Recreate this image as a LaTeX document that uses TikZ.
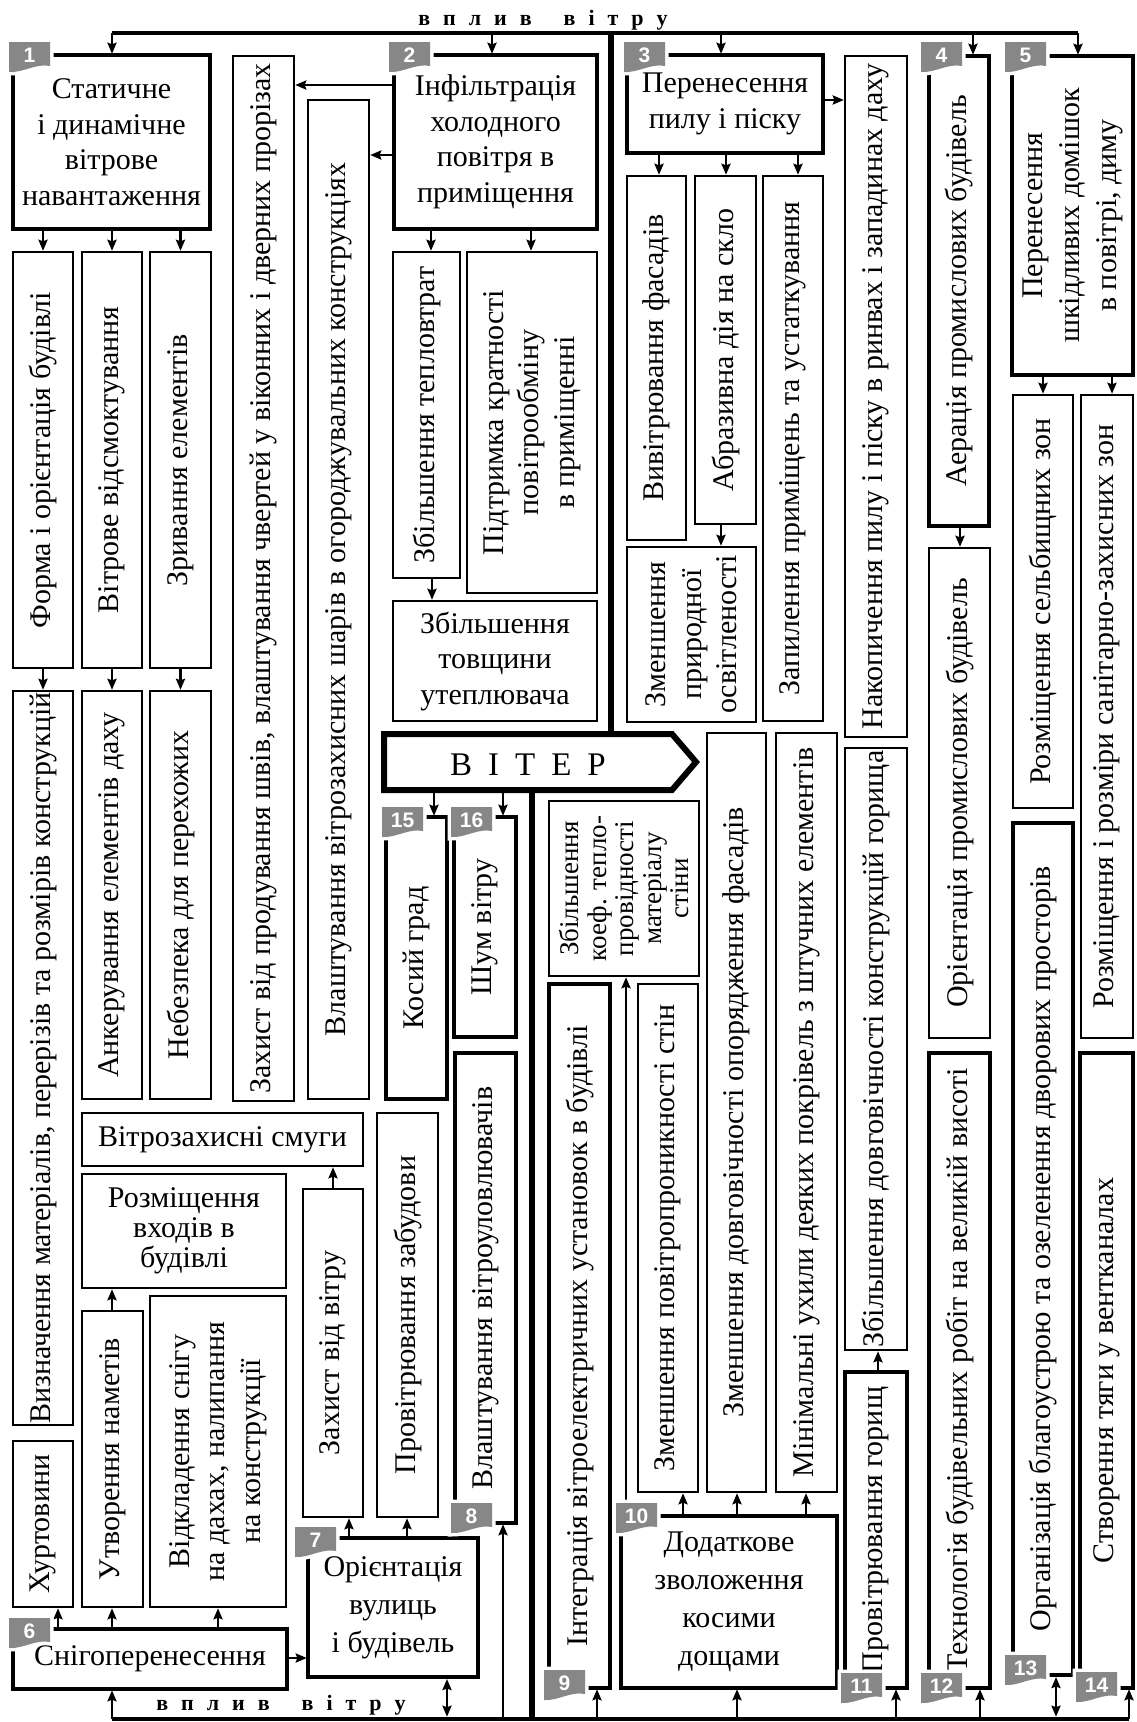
\documentclass[tikz,border=0pt]{standalone}
\usepackage{fontspec}
\setmainfont{Liberation Serif}
\newfontfamily\badgefont{Liberation Sans}
\usetikzlibrary{arrows.meta}
\definecolor{badgegray}{RGB}{135,135,135}
\tikzset{
  thinbox/.style={draw, line width=2.2pt, inner sep=0pt, outer sep=0pt},
  thickbox/.style={draw, line width=4.4pt, inner sep=0pt, outer sep=0pt},
  lbl/.style={font=\fontsize{30}{35.5}\selectfont, align=center, inner sep=0pt},
  vlbl/.style={lbl, rotate=90},
  arr/.style={line width=2.6pt, -{Stealth[length=11pt,width=9pt,inset=1.5pt]}, shorten >=1.2pt},
  darr/.style={line width=2.6pt, {Stealth[length=11pt,width=9pt,inset=1.5pt]}-{Stealth[length=11pt,width=9pt,inset=1.5pt]}, shorten >=2pt, shorten <=2.3pt},
  mainline/.style={line width=4.6pt},
  trunk/.style={line width=5.2pt},
  spaced/.style={font=\fontsize{22}{22}\selectfont\bfseries, inner sep=0pt, anchor=base},
}
\newcommand\Bx[8]{\node[#2,anchor=north west,minimum width={#5pt-#3pt},minimum height={#6pt-#4pt}] (#1) at (#3,#4) {};\node[#7] (#1t) at (#1.center) {#8};}
\newcommand\Badge[3]{\path[fill=badgegray, preaction={draw=white, line width=7pt}] (#2,#3) -- (#2+41,#3) -- (#2+41,#3+24) .. controls (#2+27,#3+21) and (#2+14,#3+31) .. (#2,#3+30) -- cycle;
\node[font=\badgefont\bfseries\fontsize{21}{21}\selectfont, text=white, inner sep=0pt] (badge#1) at (#2+20.5,#3+13.5) {#1};}
\newcommand\lsp{\hspace{13pt}}
\begin{document}
\begin{tikzpicture}[x=1pt,y=-1pt]
\useasboundingbox (0,0) rectangle (1137,1722);
\coordinate (topL) at (112,33);
\coordinate (topR) at (1078,33);
\coordinate (botL) at (112,1719);
\coordinate (botR) at (1129,1719);
\node[spaced] (vtop) at (543,25) {в\lsp п\lsp л\lsp и\lsp в\hspace{32pt}в\lsp і\lsp т\lsp р\lsp у};
\node[spaced] (vbot) at (281,1710) {в\lsp п\lsp л\lsp и\lsp в\hspace{32pt}в\lsp і\lsp т\lsp р\lsp у};

% thick boxes
\Bx{b1}{thickbox}{13}{55}{210}{229}{lbl}{Статичне\\і динамічне\\вітрове\\навантаження}
\Bx{b2}{thickbox}{394}{55}{597}{229}{lbl}{Інфільтрація\\холодного\\повітря в\\приміщення}
\Bx{b3}{thickbox}{627}{55}{823}{153}{lbl}{Перенесення\\пилу і піску}
\Bx{b4}{thickbox}{929}{56}{989}{526}{vlbl}{Аерація промислових будівель}
\Bx{b5}{thickbox}{1012}{56}{1133}{375}{vlbl, font=\fontsize{30}{37}\selectfont}{Перенесення\\шкідливих домішок\\в повітрі, диму}
\Bx{b6}{thickbox}{13}{1629}{287}{1689}{lbl}{Снігоперенесення}
\Bx{b7}{thickbox}{308}{1538}{478}{1677}{lbl, font=\fontsize{30}{38}\selectfont}{Орієнтація\\вулиць\\і будівель}
\Bx{b8}{thickbox}{455}{1053}{516}{1523}{vlbl}{Влаштування вітроуловлювачів}
\Bx{b9}{thickbox}{549}{984}{610}{1688}{vlbl}{Інтеграція вітроелектричних установок в будівлі}
\Bx{b10}{thickbox}{621}{1516}{837}{1688}{lbl, font=\fontsize{30}{38}\selectfont}{Додаткове\\зволоження\\косими\\дощами}
\Bx{b11}{thickbox}{845}{1372}{907}{1688}{vlbl}{Провітрювання горищ}
\Bx{b12}{thickbox}{929}{1053}{990}{1688}{vlbl}{Технологія будівельних робіт на великій висоті}
\Bx{b13}{thickbox}{1013}{823}{1073}{1675}{vlbl}{Організація благоустрою та озеленення дворових просторів}
\Bx{b14}{thickbox}{1080}{1053}{1133}{1688}{vlbl}{Створення тяги у вентканалах}
\Bx{b15}{thickbox}{386}{817}{447}{1099}{vlbl}{Косий град}
\Bx{b16}{thickbox}{454}{817}{516}{1037}{vlbl}{Шум вітру}

% thin boxes
\Bx{A1}{thinbox}{13}{252}{73}{668}{vlbl}{Форма і орієнтація будівлі}
\Bx{A2}{thinbox}{82}{252}{142}{668}{vlbl}{Вітрове відсмоктування}
\Bx{A3}{thinbox}{150}{252}{211}{668}{vlbl}{Зривання елементів}
\Bx{B1}{thinbox}{13}{691}{73}{1425}{vlbl}{Визначення матеріалів, перерізів та розмірів конструкцій}
\Bx{B2}{thinbox}{82}{691}{142}{1099}{vlbl}{Анкерування елементів даху}
\Bx{B3}{thinbox}{150}{691}{211}{1099}{vlbl}{Небезпека для перехожих}
\Bx{C1}{thinbox}{233}{56}{294}{1101}{vlbl}{Захист від продування швів, влаштування чвертей у віконних і дверних прорізах}
\Bx{C2}{thinbox}{308}{100}{369}{1099}{vlbl}{Влаштування вітрозахисних шарів в огороджувальних конструкціях}
\Bx{D1}{thinbox}{393}{252}{460}{578}{vlbl}{Збільшення тепловтрат}
\Bx{D2}{thinbox}{467}{252}{597}{593}{vlbl}{Підтримка кратності\\повітрообміну\\в приміщенні}
\Bx{D3}{thinbox}{393}{601}{597}{721}{lbl}{Збільшення\\товщини\\утеплювача}
\Bx{E1}{thinbox}{627}{176}{686}{540}{vlbl}{Вивітрювання фасадів}
\Bx{E2}{thinbox}{695}{176}{756}{524}{vlbl}{Абразивна дія на скло}
\Bx{E3}{thinbox}{627}{547}{756}{722}{vlbl}{Зменшення\\природної\\освітленості}
\Bx{E4}{thinbox}{763}{176}{823}{721}{vlbl}{Запилення приміщень та устаткування}
\Bx{E5}{thinbox}{845}{56}{907}{737}{vlbl}{Накопичення пилу і піску в ринвах і западинах даху}
\Bx{F1}{thinbox}{929}{548}{990}{1038}{vlbl}{Орієнтація промислових будівель}
\Bx{G1}{thinbox}{1013}{395}{1073}{808}{vlbl}{Розміщення сельбищних зон}
\Bx{G2}{thinbox}{1081}{395}{1133}{1038}{vlbl}{Розміщення і розміри санітарно-захисних зон}
\Bx{H}{thinbox}{549}{801}{699}{976}{vlbl, font=\fontsize{27}{27.5}\selectfont}{Збільшення\\коеф. тепло-\\провідності\\матеріалу\\стіни}
\Bx{I1}{thinbox}{638}{984}{698}{1492}{vlbl}{Зменшення повітропроникності стін}
\Bx{I2}{thinbox}{707}{733}{766}{1492}{vlbl}{Зменшення довговічності опорядження фасадів}
\Bx{I3}{thinbox}{776}{733}{837}{1492}{vlbl}{Мінімальні ухили деяких покрівель з штучних елементів}
\Bx{J}{thinbox}{845}{748}{907}{1350}{vlbl}{Збільшення довговічності конструкцій горища}
\Bx{K1}{thinbox}{82}{1113}{363}{1166}{lbl}{Вітрозахисні смуги}
\Bx{K2}{thinbox}{82}{1174}{286}{1288}{lbl, font=\fontsize{30}{30}\selectfont}{Розміщення\\входів в\\будівлі}
\Bx{K3}{thinbox}{303}{1189}{363}{1517}{vlbl}{Захист від вітру}
\Bx{K4}{thinbox}{377}{1113}{438}{1517}{vlbl}{Провітрювання забудови}
\Bx{L1}{thinbox}{13}{1441}{73}{1607}{vlbl}{Хуртовини}
\Bx{L2}{thinbox}{82}{1311}{143}{1607}{vlbl}{Утворення наметів}
\Bx{L3}{thinbox}{150}{1296}{286}{1607}{vlbl}{Відкладення снігу\\на дахах, налипання\\на конструкції}

% VITER
\node[inner sep=0pt, outer sep=0pt, minimum width=288pt, minimum height=56pt, anchor=north west] (vit) at (384,734) {};
\draw[line width=6pt, line join=miter] (vit.north west) -- (vit.north east) -- ([xshift=24pt]vit.east) -- (vit.south east) -- (vit.south west) -- cycle;
\node[font=\fontsize{33}{33}\selectfont, anchor=base, inner sep=0pt] (vitt) at (528,775) {В\hspace{16pt}І\hspace{16pt}Т\hspace{16pt}Е\hspace{16pt}Р};

% main lines and trunks
\draw[mainline] (topL) -- (topR);
\draw[mainline] (botL) -- (botR);
\draw[trunk] (topL -| 611,0) -- (vit.north -| 611,0);
\draw[trunk] (vit.south -| 532,0) -- (botL -| 532,0);

% top arrows
\draw[arr] (topL) -- (b1.north -| topL);
\draw[arr] (topL -| 492,0) -- (b2.north -| 492,0);
\draw[arr] (topL -| 721,0) -- (b3.north -| 721,0);
\draw[arr] (topL -| 973,0) -- (b4.north -| 973,0);
\draw[arr] (topR) -- (b5.north -| topR);

% group 1
\foreach \c in {A1,A2,A3} \draw[arr] (b1.south -| \c.north) -- (\c.north);
\foreach \a/\c in {A1/B1,A2/B2,A3/B3} \draw[arr] (\a.south) -- (\c.north);
% group 2
\draw[arr] (b2.west |- 0,85) -- (C1.east |- 0,85);
\draw[arr] (b2.west |- 0,155) -- (C2.east |- 0,155);
\draw[arr] (b2.south -| 431,0) -- (D1.north -| 431,0);
\draw[arr] (b2.south -| 531,0) -- (D2.north -| 531,0);
\draw[arr] (D1.south -| 432,0) -- (D3.north -| 432,0);
% group 3
\draw[arr] (b3.south -| 659,0) -- (E1.north -| 659,0);
\draw[arr] (b3.south -| 726,0) -- (E2.north -| 726,0);
\draw[arr] (b3.south -| 798,0) -- (E4.north -| 798,0);
\draw[arr] (b3.east |- 0,100) -- (E5.west |- 0,100);
\draw[arr] (E2.south -| 721,0) -- (E3.north -| 721,0);
% group 4, 5
\draw[arr] (b4.south -| 960,0) -- (F1.north -| 960,0);
\draw[arr] (b5.south -| 1043,0) -- (G1.north -| 1043,0);
\draw[arr] (b5.south -| 1112,0) -- (G2.north -| 1112,0);
% viter
\draw[arr] (vit.south -| 434,0) -- (b15.north -| 434,0);
\draw[arr] (vit.south -| 503,0) -- (b16.north -| 503,0);
% bottom arrows
\draw[arr] (botL) -- (b6.south -| botL);
\draw[darr] (botL -| 447,0) -- (b7.south -| 447,0);
\draw[arr] (botL -| 503,0) -- (b8.south -| 503,0);
\draw[arr] (botL -| 597,0) -- (b9.south -| 597,0);
\draw[arr] (botL -| 737,0) -- (b10.south -| 737,0);
\draw[arr] (botL -| 896,0) -- (b11.south -| 896,0);
\draw[arr] (botL -| 980,0) -- (b12.south -| 980,0);
\draw[darr] (botL -| 1056,0) -- (b13.south -| 1056,0);
\draw[arr] (botR) -- (b14.south -| botR);
% group 6
\draw[arr] (b6.north -| 58,0) -- (L1.south -| 58,0);
\draw[arr] (b6.north -| 112,0) -- (L2.south -| 112,0);
\draw[arr] (b6.north -| 218,0) -- (L3.south -| 218,0);
\draw[arr] (b6.east |- 0,1658) -- (b7.west |- 0,1658);
\draw[arr] (L2.north -| 112,0) -- (K2.south -| 112,0);
% group 7
\draw[arr] (b7.north -| 349,0) -- (K3.south -| 349,0);
\draw[arr] (b7.north -| 407,0) -- (K4.south -| 407,0);
\draw[arr] (K3.north -| 333,0) -- (K1.south -| 333,0);
% group 10, 11
\draw[arr] (b10.north -| 683,0) -- (I1.south -| 683,0);
\draw[arr] (b10.north -| 737,0) -- (I2.south -| 737,0);
\draw[arr] (b10.north -| 806,0) -- (I3.south -| 806,0);
\draw[arr] (b10.north -| 626,0) -- (H.south -| 626,0);
\draw[arr] (b11.north -| 878,0) -- (J.south -| 878,0);

% badges
\Badge{1}{9}{42}
\Badge{2}{389}{42}
\Badge{3}{624}{42}
\Badge{4}{921}{42}
\Badge{5}{1005}{42}
\Badge{6}{9}{1618}
\Badge{7}{295}{1527}
\Badge{8}{451}{1503}
\Badge{9}{544}{1670}
\Badge{10}{616}{1503}
\Badge{11}{841}{1673}
\Badge{12}{921}{1673}
\Badge{13}{1005}{1655}
\Badge{14}{1076}{1672}
\Badge{15}{382}{807}
\Badge{16}{451}{807}
\end{tikzpicture}
\end{document}
